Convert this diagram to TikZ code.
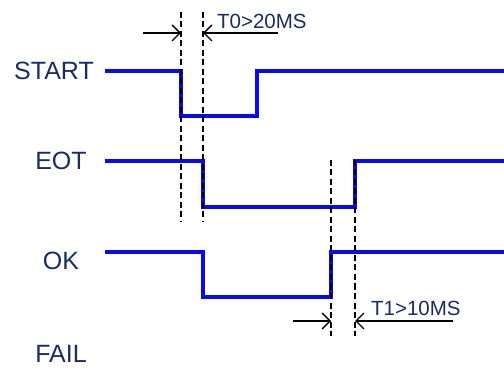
\documentclass[tikz,border=0pt]{standalone}
\usepackage{fontspec}
\setmainfont{Liberation Sans}
\usetikzlibrary{arrows.meta}
\definecolor{navy}{HTML}{1A2B6B}
\definecolor{sig}{HTML}{0A0AF0}
\begin{document}
\begin{tikzpicture}[x=1pt,y=-1pt,
  siglabel/.style={text=navy,font=\fontsize{25}{25}\selectfont,inner sep=0pt,anchor=center},
  wave/.style={draw=sig,line width=3.3pt,line join=miter},
  guide/.style={draw=black,line width=1.3pt,dash pattern=on 6pt off 3.5pt},
  dim/.style={draw=black,line width=1.3pt,-{Straight Barb[length=8pt,width=16pt,line width=1.3pt]}},
  note/.style={text=navy,font=\fontsize{20.5}{20.5}\selectfont,inner sep=0pt,anchor=west}]
\useasboundingbox (0,0) rectangle (504,385);
% labels
\node[siglabel] (lstart) at (54,71) {START};
\node[siglabel] (leot) at (61,161) {EOT};
\node[siglabel] (lok) at (61,261) {OK};
\node[siglabel] (lfail) at (61,354) {FAIL};
% START waveform
\coordinate (s0) at (105,71);
\coordinate (s1) at (181,71);
\coordinate (s2) at (181,116);
\coordinate (s3) at (257,116);
\coordinate (s4) at (257,71);
\coordinate (s5) at (504,71);
\draw[wave] (s0) -- (s1) -- (s2) -- (s3) -- (s4) -- (s5);
% EOT waveform
\coordinate (e0) at (105,161);
\coordinate (e1) at (203,161);
\coordinate (e2) at (203,207);
\coordinate (e3) at (355,207);
\coordinate (e4) at (355,161);
\coordinate (e5) at (504,161);
\draw[wave] (e0) -- (e1) -- (e2) -- (e3) -- (e4) -- (e5);
% OK waveform
\coordinate (o0) at (105,252);
\coordinate (o1) at (203,252);
\coordinate (o2) at (203,297);
\coordinate (o3) at (331,297);
\coordinate (o4) at (331,252);
\coordinate (o5) at (504,252);
\draw[wave] (o0) -- (o1) -- (o2) -- (o3) -- (o4) -- (o5);
% guide lines
\coordinate (g1t) at (181,12); \coordinate (g1b) at (181,222);
\coordinate (g2t) at (203,12); \coordinate (g2b) at (203,222);
\coordinate (g3t) at (331,160); \coordinate (g3b) at (331,336);
\coordinate (g4t) at (355,160); \coordinate (g4b) at (355,336);
\draw[guide] (g1t) -- (g1b);
\draw[guide] (g2t) -- (g2b);
\draw[guide] (g3t) -- (g3b);
\draw[guide] (g4t) -- (g4b);
% T0 dimension
\coordinate (a1s) at (143,33); \coordinate (a1e) at (181,33);
\coordinate (a2s) at (278,33); \coordinate (a2e) at (203,33);
\draw[dim] (a1s) -- (a1e);
\draw[dim] (a2s) -- (a2e);
\node[note] (t0) at (217,21) {T0>20MS};
% T1 dimension
\coordinate (b1s) at (293,321); \coordinate (b1e) at (331,321);
\coordinate (b2s) at (453,321); \coordinate (b2e) at (355,321);
\draw[dim] (b1s) -- (b1e);
\draw[dim] (b2s) -- (b2e);
\node[note] (t1) at (371,308) {T1>10MS};
\end{tikzpicture}
\end{document}
